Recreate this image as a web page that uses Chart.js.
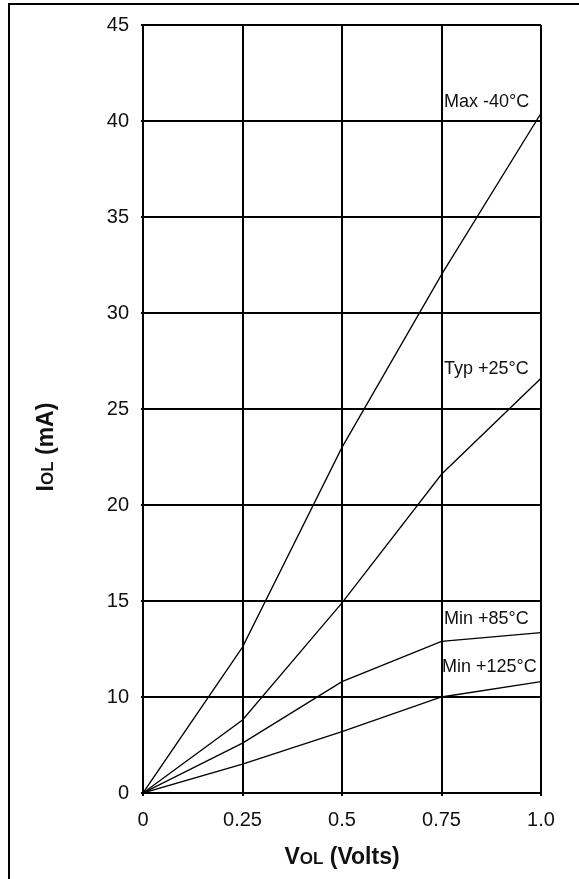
<!DOCTYPE html>
<html>
<head>
<meta charset="utf-8">
<script src="https://cdn.jsdelivr.net/npm/chart.js@4/dist/chart.umd.min.js"></script>
<style>
	html, body { margin:0; padding:0; background:#fff; overflow:hidden; }
	#wrap { position:relative; width:579px; height:879px; }
	#frame { position:absolute; left:8px; top:3px; width:620px; height:920px; border:2px solid #000; pointer-events:none; }
</style>
</head>
<body>
<div id="wrap">
	<canvas id="myChart" width="579" height="879"></canvas>
	<div id="frame"></div>
</div>
<script>
// data
var vol = [0, 0.25, 0.5, 0.75, 1.0];
var max_m40 = [5, 12.6, 23.0, 32.0, 40.4];
var typ_25 = [5, 8.8, 14.9, 21.6, 26.6];
var min_85 = [5, 7.6, 10.8, 12.9, 13.35];
var min_125 = [5, 6.5, 8.2, 10.0, 10.8];
var seriesNames = ['Max -40°C', 'Typ +25°C', 'Min +85°C', 'Min +125°C'];
var xTickLabels = ['0', '0.25', '0.5', '0.75', '1.0'];
var yTickLabels = ['0', '10', '15', '20', '25', '30', '35', '40', '45'];

var FONT = '"Liberation Sans", Arial, sans-serif';

function toPoints(arr){
	var pts = [];
	for(var i = 0; i < vol.length; i++){
		pts.push({x: vol[i], y: arr[i]});
	}
	return pts;
}

function makeSet(name, arr){
	return {
		label: name,
		data: toPoints(arr),
		borderColor: '#000',
		borderWidth: 1.3,
		pointRadius: 0,
		fill: false,
		tension: 0
	};
}

// curve names, placed next to the right edge at a y value
var curveLabels = {
	id: 'curveLabels',
	afterDatasetsDraw: function(chart){
		var ctx = chart.ctx;
		var ys = chart.scales.y;
		var area = chart.chartArea;
		var spots = [41.0, 27.1, 14.06, 11.56];
		ctx.save();
		ctx.font = '18px ' + FONT;
		ctx.fillStyle = '#111';
		ctx.textAlign = 'left';
		ctx.textBaseline = 'middle';
		for(var i = 0; i < seriesNames.length; i++){
			var dx = (i == 3) ? -2 : 0;
			ctx.fillText(seriesNames[i], area.right - 97 + dx, ys.getPixelForValue(spots[i]));
		}
		ctx.restore();
	}
};

// axis titles with the small "OL" part
function drawSubTitle(ctx, parts){
	var total = 0;
	for(var i = 0; i < parts.length; i++){
		ctx.font = 'bold ' + parts[i][1] + 'px ' + FONT;
		total += ctx.measureText(parts[i][0]).width;
	}
	var u = -total / 2;
	for(var j = 0; j < parts.length; j++){
		ctx.font = 'bold ' + parts[j][1] + 'px ' + FONT;
		ctx.fillText(parts[j][0], u, 0);
		u += ctx.measureText(parts[j][0]).width;
	}
}

var axisTitles = {
	id: 'axisTitles',
	afterDraw: function(chart){
		var ctx = chart.ctx;
		var area = chart.chartArea;
		ctx.save();
		ctx.fillStyle = '#111';
		ctx.textAlign = 'left';
		ctx.textBaseline = 'alphabetic';
		// x title
		ctx.save();
		ctx.translate((area.left + area.right) / 2, area.bottom + 71);
		drawSubTitle(ctx, [['V', 23], ['OL', 17], [' (Volts)', 23]]);
		ctx.restore();
		// y title
		ctx.save();
		ctx.translate(53, 447);
		ctx.rotate(-Math.PI / 2);
		drawSubTitle(ctx, [['I', 23], ['OL', 17], [' (mA)', 23]]);
		ctx.restore();
		ctx.restore();
	}
};

function test_chart(){
	var ctx = document.getElementById('myChart');
	var myChart = new Chart(ctx, {
		type: 'line',
		data: {
			datasets: [
				makeSet(seriesNames[0], max_m40),
				makeSet(seriesNames[1], typ_25),
				makeSet(seriesNames[2], min_85),
				makeSet(seriesNames[3], min_125)
			]
		},
		options: {
			responsive: false,
			devicePixelRatio: 1,
			animation: false,
			layout: { padding: { left: 0, top: 25, right: 38, bottom: 0 } },
			plugins: {
				legend: { display: false },
				tooltip: { enabled: false }
			},
			scales: {
				x: {
					type: 'linear',
					min: 0,
					max: 1,
					afterFit: function(s){ s.height = 86; },
					afterBuildTicks: function(s){
						s.ticks = vol.map(function(v){ return {value: v}; });
					},
					ticks: {
						font: { family: FONT, size: 20 },
						color: '#111',
						padding: 12,
						maxRotation: 0,
						callback: function(v, i){ return xTickLabels[i]; }
					},
					grid: { color: '#000', lineWidth: 2, tickLength: 3 },
					border: { color: '#000', width: 2 }
				},
				y: {
					min: 5,
					max: 45,
					afterFit: function(s){ s.width = 143; },
					ticks: {
						stepSize: 5,
						font: { family: FONT, size: 20 },
						color: '#111',
						padding: 12,
						callback: function(v, i){ return yTickLabels[i]; }
					},
					grid: { color: '#000', lineWidth: 2, tickLength: 2 },
					border: { color: '#000', width: 2 }
				}
			}
		},
		plugins: [curveLabels, axisTitles]
	});
	return myChart;
}

test_chart();
</script>
</body>
</html>
